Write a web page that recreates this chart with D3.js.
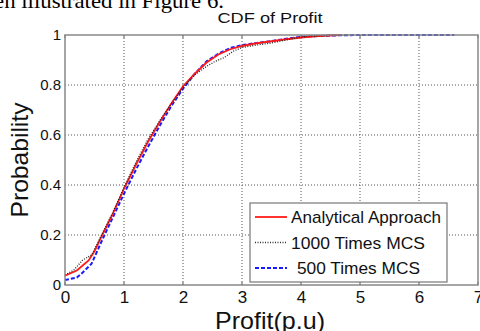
<!DOCTYPE html>
<html><head><meta charset="utf-8">
<script src="https://cdn.jsdelivr.net/npm/d3@7"></script>
<style>html,body{margin:0;padding:0;background:#fff;overflow:hidden}</style>
</head><body>
<svg id="c" width="480" height="331"></svg>
<script>
const xTicks = [0,1,2,3,4,5,6,7];
const yTicks = [0,0.2,0.4,0.6,0.8,1];
const yTickLabels = ["0","0.2","0.4","0.6","0.8","1"];
const seriesNames = ["Analytical Approach","1000 Times MCS","500 Times MCS"];

const analyticalX = [0,0.2,0.4,0.5,0.6,0.8,1.0,1.2,1.4,1.6,1.8,2.0,2.2,2.4,2.6,2.8,3.0,3.25,3.5,3.75,4.0,4.3,4.66];
const analyticalY = [0.037,0.058,0.098,0.135,0.185,0.28,0.385,0.48,0.57,0.65,0.725,0.795,0.845,0.89,0.922,0.943,0.956,0.967,0.975,0.983,0.99,0.996,1.0];

const mcs1000X = [0,0.15,0.3,0.45,0.6,0.8,1.0,1.2,1.4,1.6,1.8,2.0,2.2,2.4,2.55,2.7,2.85,3.0,3.25,3.5,3.75,3.9,4.1,4.5,4.8];
const mcs1000Y = [0.04,0.06,0.1,0.12,0.19,0.285,0.39,0.49,0.58,0.655,0.725,0.79,0.84,0.875,0.895,0.91,0.935,0.95,0.96,0.968,0.98,0.988,0.995,0.998,1.0];

const mcs500X = [0,0.2,0.3,0.45,0.65,0.8,1.0,1.2,1.4,1.6,1.8,2.0,2.2,2.4,2.6,2.8,3.0,3.25,3.5,3.75,4.0,4.5,5.0,6.6];
const mcs500Y = [0.02,0.03,0.05,0.085,0.19,0.265,0.365,0.46,0.55,0.635,0.715,0.785,0.845,0.895,0.925,0.948,0.96,0.968,0.976,0.985,0.993,0.998,1.0,1.0];

const svg = d3.select("#c");
const L = 65, R = 478, T = 35, B = 285;
const x = d3.scaleLinear().domain([0,7]).range([L,R]);
const y = d3.scaleLinear().domain([0,1]).range([B,T]);

// cut-off paper text at top
svg.append("text").attr("x",-6).attr("y",8)
  .attr("font-family","Liberation Serif, Times New Roman, serif").attr("font-size",22)
  .attr("textLength",230).attr("lengthAdjust","spacingAndGlyphs")
  .attr("fill","#000").text("en illustrated in Figure 6.");

// grid
const g = svg.append("g");
g.selectAll(".gx").data(xTicks.slice(1,-1)).enter().append("line")
  .attr("x1",d=>x(d)).attr("x2",d=>x(d)).attr("y1",T).attr("y2",B)
  .attr("stroke","#555").attr("stroke-width",1).attr("stroke-dasharray","1,2");
g.selectAll(".gy").data(yTicks.slice(1,-1)).enter().append("line")
  .attr("y1",d=>y(d)).attr("y2",d=>y(d)).attr("x1",L).attr("x2",R)
  .attr("stroke","#555").attr("stroke-width",1).attr("stroke-dasharray","1,2");

// axes
const xAxis = d3.axisBottom(x).tickValues(xTicks).tickSize(0).tickPadding(6).tickFormat(d3.format("d"));
const yAxis = d3.axisLeft(y).tickValues(yTicks).tickSize(0).tickPadding(4).tickFormat((d,i)=>yTickLabels[i]);
const gx = svg.append("g").attr("transform",`translate(0,${B})`).call(xAxis);
gx.select(".domain").remove();
gx.selectAll("text").attr("font-family","Liberation Sans, Arial, sans-serif").attr("font-size",17).attr("fill","#111");
const gy = svg.append("g").attr("transform",`translate(${L},0)`).call(yAxis);
gy.select(".domain").remove();
gy.selectAll("text").attr("font-family","Liberation Sans, Arial, sans-serif").attr("font-size",15).attr("fill","#111");

// tick marks inside
svg.selectAll(".tx").data(xTicks).enter().append("line")
  .attr("x1",d=>x(d)).attr("x2",d=>x(d)).attr("y1",B).attr("y2",B-3).attr("stroke","#555");
svg.selectAll(".tx2").data(xTicks).enter().append("line")
  .attr("x1",d=>x(d)).attr("x2",d=>x(d)).attr("y1",T).attr("y2",T+3).attr("stroke","#555");

// series
const line = d3.line().x(d=>x(d[0])).y(d=>y(d[1]));
const zip = (a,b)=>a.map((v,i)=>[v,b[i]]);
const plotArea = svg.append("g");
plotArea.append("path").datum(zip(mcs500X,mcs500Y)).attr("d",line)
  .attr("fill","none").attr("stroke","#1a1aff").attr("stroke-width",2).attr("stroke-dasharray","4,2");
plotArea.append("path").datum(zip(analyticalX,analyticalY)).attr("d",line)
  .attr("fill","none").attr("stroke","#ff1a1a").attr("stroke-width",1.8);
plotArea.append("path").datum(zip(mcs1000X,mcs1000Y)).attr("d",line)
  .attr("fill","none").attr("stroke","#222").attr("stroke-width",1.3).attr("stroke-dasharray","1,1.5");

// box
svg.append("rect").attr("x",L).attr("y",T).attr("width",R-L).attr("height",B-T)
  .attr("fill","none").attr("stroke","#888").attr("stroke-width",1.5);

// title and labels
svg.append("text").attr("x",270).attr("y",23).attr("text-anchor","middle")
  .attr("font-family","Liberation Sans, Arial, sans-serif").attr("font-size",15)
  .attr("textLength",105).attr("lengthAdjust","spacingAndGlyphs").attr("fill","#111").text("CDF of Profit");
svg.append("text").attr("x",270).attr("y",329).attr("text-anchor","middle")
  .attr("font-family","Liberation Sans, Arial, sans-serif").attr("font-size",24)
  .attr("textLength",110).attr("lengthAdjust","spacingAndGlyphs").attr("fill","#111").text("Profit(p.u)");
svg.append("text").attr("transform","translate(28,160) rotate(-90)").attr("text-anchor","middle")
  .attr("font-family","Liberation Sans, Arial, sans-serif").attr("font-size",24)
  .attr("textLength",115).attr("lengthAdjust","spacingAndGlyphs").attr("fill","#111").text("Probability");

// legend
const lg = svg.append("g");
lg.append("rect").attr("x",250).attr("y",203).attr("width",197).attr("height",79)
  .attr("fill","#fff").attr("stroke","#777").attr("stroke-width",1.2);
const legStyles = [
  {c:"#ff1a1a",w:1.8,da:null,tx:291,len:150},
  {c:"#333",w:1.3,da:"1,1.5",tx:291,len:134},
  {c:"#1a1aff",w:2,da:"4,2",tx:297,len:123}
];
seriesNames.forEach((n,i)=>{
  const yy = 217 + i*25.5;
  const s = legStyles[i];
  const ln = lg.append("line").attr("x1",255).attr("x2",287).attr("y1",yy).attr("y2",yy)
    .attr("stroke",s.c).attr("stroke-width",s.w);
  if(s.da) ln.attr("stroke-dasharray",s.da);
  lg.append("text").attr("x",s.tx).attr("y",yy+6)
    .attr("font-family","Liberation Sans, Arial, sans-serif").attr("font-size",17)
    .attr("textLength",s.len).attr("lengthAdjust","spacingAndGlyphs").attr("fill","#111").text(n);
});
</script>
</body></html>
